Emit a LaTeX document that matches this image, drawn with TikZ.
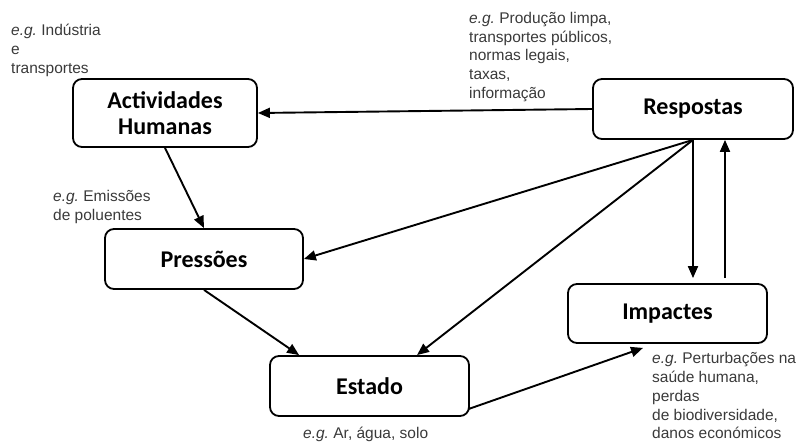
\documentclass[tikz,border=0pt]{standalone}
\usepackage{fontspec}
\setmainfont{Liberation Sans}
\newfontfamily\boxfont{Carlito}
\usetikzlibrary{arrows.meta,calc}
\definecolor{notegray}{HTML}{3A3A3A}
\begin{document}
\begin{tikzpicture}[x=1pt,y=-1pt,
  stagebox/.style={draw=black,line width=1.8pt,rounded corners=9pt,fill=white,
    align=center,font=\boxfont\bfseries\fontsize{24}{26}\selectfont,inner sep=0pt},
  note/.style={anchor=north west,align=left,text=notegray,inner sep=0pt,
    font=\fontsize{15.5}{18.7}\selectfont},
  conn/.style={line width=1.9pt,-{Triangle[length=12pt,width=10pt]}}]
\useasboundingbox (0,0) rectangle (804,444);
% boxes
\node[stagebox,minimum width=184pt,minimum height=68pt] (act) at (165,113) {Actividades\\Humanas};
\node[stagebox,minimum width=200pt,minimum height=60pt] (resp) at (693,109) {Respostas};
\node[stagebox,minimum width=198pt,minimum height=60pt] (pres) at (204,259) {Pressões};
\node[stagebox,minimum width=199pt,minimum height=60pt] (est) at (369.5,386) {Estado};
\node[stagebox,minimum width=199pt,minimum height=59pt] (imp) at (667.5,313.5) {Impactes};
% notes
\node[note] (n1) at (11,24) {\textit{e.g.}\ Indústria\\e\\transportes};
\node[note] (n2) at (469,12) {\textit{e.g.}\ Produção limpa,\\transportes públicos,\\normas legais,\\taxas,\\informação};
\node[note] (n3) at (53,190) {\textit{e.g.}\ Emissões\\de poluentes};
\node[note] (n4) at (303,426.5) {\textit{e.g.}\ Ar, água, solo};
\node[note] (n5) at (652,352.5) {\textit{e.g.}\ Perturbações na\\saúde humana,\\perdas\\de biodiversidade,\\danos económicos};
% anchor coordinates
\coordinate (estIn) at ($(est.north west)+(30,0)$);
\coordinate (estIn2) at ($(est.north)+(47.5,0)$);
\coordinate (estOut) at ($(est.south east)+(-1,-8)$);
\coordinate (impIn) at ($(imp.south)+(-24.5,4)$);
\coordinate (impTop1) at ($(imp.north)+(25.5,-5)$);
\coordinate (impTop2) at ($(imp.north)+(57.5,-5)$);
\coordinate (respBot2) at (resp.south -| impTop2);
% connectors
\draw[conn] (resp.west) -- (act.east);
\draw[conn] (act.south) -- (pres.north);
\draw[conn] (resp.south) -- (pres.east);
\draw[conn] (resp.south) -- (estIn2);
\draw[conn] (resp.south) -- (impTop1);
\draw[conn] (impTop2) -- (respBot2);
\draw[conn] (pres.south) -- (estIn);
\draw[conn] (estOut) -- (impIn);
\end{tikzpicture}
\end{document}
